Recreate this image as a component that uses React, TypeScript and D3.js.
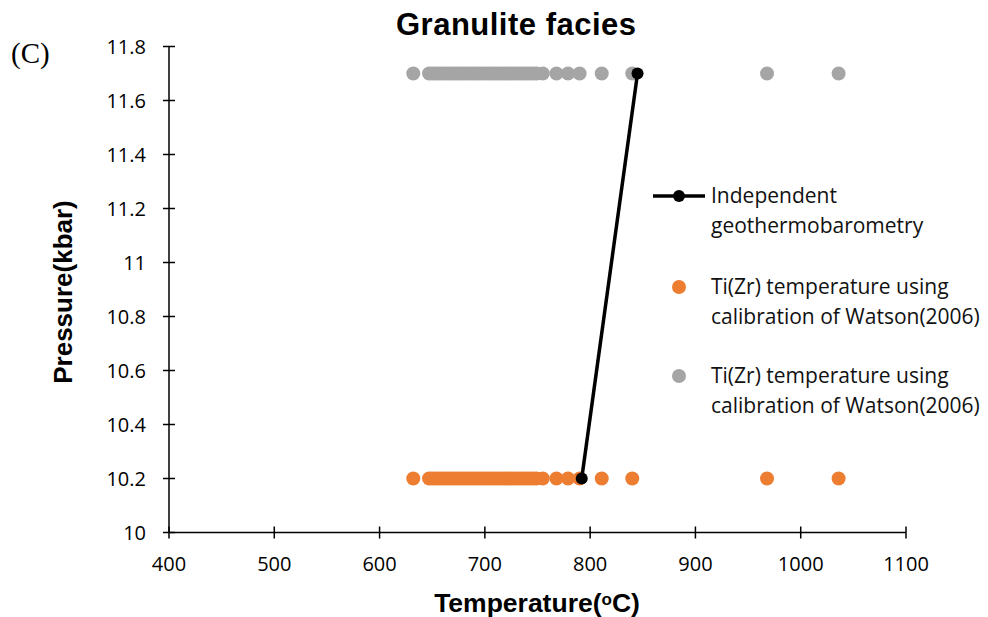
import React, { useEffect, useRef } from "react";
import * as d3 from "d3";

// Ti(Zr) temperatures (°C), same set plotted at both pressures
const tempsWatson = [
	632, 647, 650, 653, 656, 659, 662, 665, 668, 671, 674, 677, 680, 683, 686,
	689, 692, 695, 698, 701, 704, 707, 710, 713, 716, 719, 722, 725, 728, 731,
	734, 737, 740, 743, 746, 749, 755, 768, 779, 790, 811, 840, 968, 1036,
];
const pOrange = 10.2;
const pGray = 11.7;

// independent geothermobarometry path
const indepT = [792, 845];
const indepP = [10.2, 11.7];

const xTicks = [400, 500, 600, 700, 800, 900, 1000, 1100];
const yTicks = [10, 10.2, 10.4, 10.6, 10.8, 11, 11.2, 11.4, 11.6, 11.8];

const legendItems = [
	{ kind: "line", lines: ["Independent", "geothermobarometry"] },
	{ kind: "orange", lines: ["Ti(Zr) temperature using", "calibration of Watson(2006)"] },
	{ kind: "gray", lines: ["Ti(Zr) temperature using", "calibration of Watson(2006)"] },
];

const ORANGE = "#ED7D31";
const GRAY = "#A5A5A5";
const labelFont = "'Open Sans', 'Noto Sans', sans-serif";
const boldFont = "'Liberation Sans', Arial, sans-serif";

const App: React.FC = () => {
	const svgRef = useRef<SVGSVGElement>(null);

	useEffect(() => {
		if (!svgRef.current) return;
		const svg = d3.select(svgRef.current);
		svg.selectAll("*").remove();

		const x = d3.scaleLinear().domain([400, 1100]).range([169, 906]);
		const y = d3.scaleLinear().domain([10, 11.8]).range([532.5, 46.5]);

		// title
		svg.append("text")
			.attr("x", 516)
			.attr("y", 35)
			.attr("text-anchor", "middle")
			.attr("font-family", boldFont)
			.attr("font-weight", "bold")
			.attr("font-size", 31)
			.attr("textLength", 240)
			.text("Granulite facies");

		svg.append("text")
			.attr("x", 11)
			.attr("y", 63)
			.attr("font-family", "'Liberation Serif', 'Times New Roman', serif")
			.attr("font-size", 29)
			.text("(C)");

		// axes
		const axisG = svg.append("g").attr("stroke", "#000").attr("stroke-width", 1.5);
		axisG.append("line").attr("x1", x(400)).attr("x2", x(400)).attr("y1", y(11.8)).attr("y2", y(10));
		axisG.append("line").attr("x1", x(400)).attr("x2", x(1100)).attr("y1", y(10)).attr("y2", y(10));
		axisG.selectAll(".yt")
			.data(yTicks)
			.join("line")
			.attr("x1", x(400) - 6)
			.attr("x2", x(400) + 6)
			.attr("y1", (d) => y(d))
			.attr("y2", (d) => y(d));
		axisG.selectAll(".xt")
			.data(xTicks)
			.join("line")
			.attr("x1", (d) => x(d))
			.attr("x2", (d) => x(d))
			.attr("y1", y(10) - 6)
			.attr("y2", y(10) + 6);

		svg.append("g")
			.selectAll("text")
			.data(yTicks)
			.join("text")
			.attr("x", x(400) - 23)
			.attr("y", (d) => y(d))
			.attr("dy", "0.35em")
			.attr("text-anchor", "end")
			.attr("font-family", labelFont)
			.attr("font-size", 20)
			.text((d) => (d === 10 || d === 11 ? String(d) : d.toFixed(1)));

		svg.append("g")
			.selectAll("text")
			.data(xTicks)
			.join("text")
			.attr("x", (d) => x(d))
			.attr("y", 571)
			.attr("text-anchor", "middle")
			.attr("font-family", labelFont)
			.attr("font-size", 20)
			.text((d) => String(d));

		// axis titles
		const xt = svg.append("text")
			.attr("x", 537)
			.attr("y", 612)
			.attr("text-anchor", "middle")
			.attr("font-family", boldFont)
			.attr("font-weight", "bold")
			.attr("font-size", 26.5);
		xt.append("tspan").text("Temperature(");
		xt.append("tspan").attr("font-size", 17).attr("dy", -7).text("o");
		xt.append("tspan").attr("dy", 7).text("C)");

		svg.append("text")
			.attr("transform", `translate(72,292) rotate(-90)`)
			.attr("text-anchor", "middle")
			.attr("font-family", boldFont)
			.attr("font-weight", "bold")
			.attr("font-size", 26)
			.text("Pressure(kbar)");

		// scatter points
		svg.append("g")
			.selectAll("circle")
			.data(tempsWatson)
			.join("circle")
			.attr("cx", (d) => x(d))
			.attr("cy", y(pOrange))
			.attr("r", 7)
			.attr("fill", ORANGE);

		svg.append("g")
			.selectAll("circle")
			.data(tempsWatson)
			.join("circle")
			.attr("cx", (d) => x(d))
			.attr("cy", y(pGray))
			.attr("r", 7)
			.attr("fill", GRAY);

		// independent line
		const pts = indepT.map((t, i) => [t, indepP[i]] as [number, number]);
		svg.append("path")
			.attr("d", d3.line<[number, number]>().x((d) => x(d[0])).y((d) => y(d[1]))(pts))
			.attr("fill", "none")
			.attr("stroke", "#000")
			.attr("stroke-width", 3.5);
		svg.append("g")
			.selectAll("circle")
			.data(pts)
			.join("circle")
			.attr("cx", (d) => x(d[0]))
			.attr("cy", (d) => y(d[1]))
			.attr("r", 6)
			.attr("fill", "#000");

		// legend
		const legendY = [196, 287, 376];
		const lg = svg.append("g").attr("font-family", labelFont).attr("font-size", 21);
		legendItems.forEach((item, i) => {
			const cy = legendY[i];
			if (item.kind === "line") {
				lg.append("line")
					.attr("x1", 653)
					.attr("x2", 705)
					.attr("y1", cy)
					.attr("y2", cy)
					.attr("stroke", "#000")
					.attr("stroke-width", 3.5);
				lg.append("circle").attr("cx", 679).attr("cy", cy).attr("r", 6).attr("fill", "#000");
			} else {
				lg.append("circle")
					.attr("cx", 679)
					.attr("cy", cy)
					.attr("r", 7)
					.attr("fill", item.kind === "orange" ? ORANGE : GRAY);
			}
			item.lines.forEach((ln, j) => {
				lg.append("text")
					.attr("x", 711)
					.attr("y", cy + j * 30)
					.attr("dy", "0.35em")
					.attr("fill", "#111")
					.text(ln);
			});
		});
	}, []);

	return (
		<svg
			ref={svgRef}
			width={988}
			height={617}
			style={{ position: "absolute", left: 0, top: 0, display: "block" }}
		/>
	);
};

export default App;
